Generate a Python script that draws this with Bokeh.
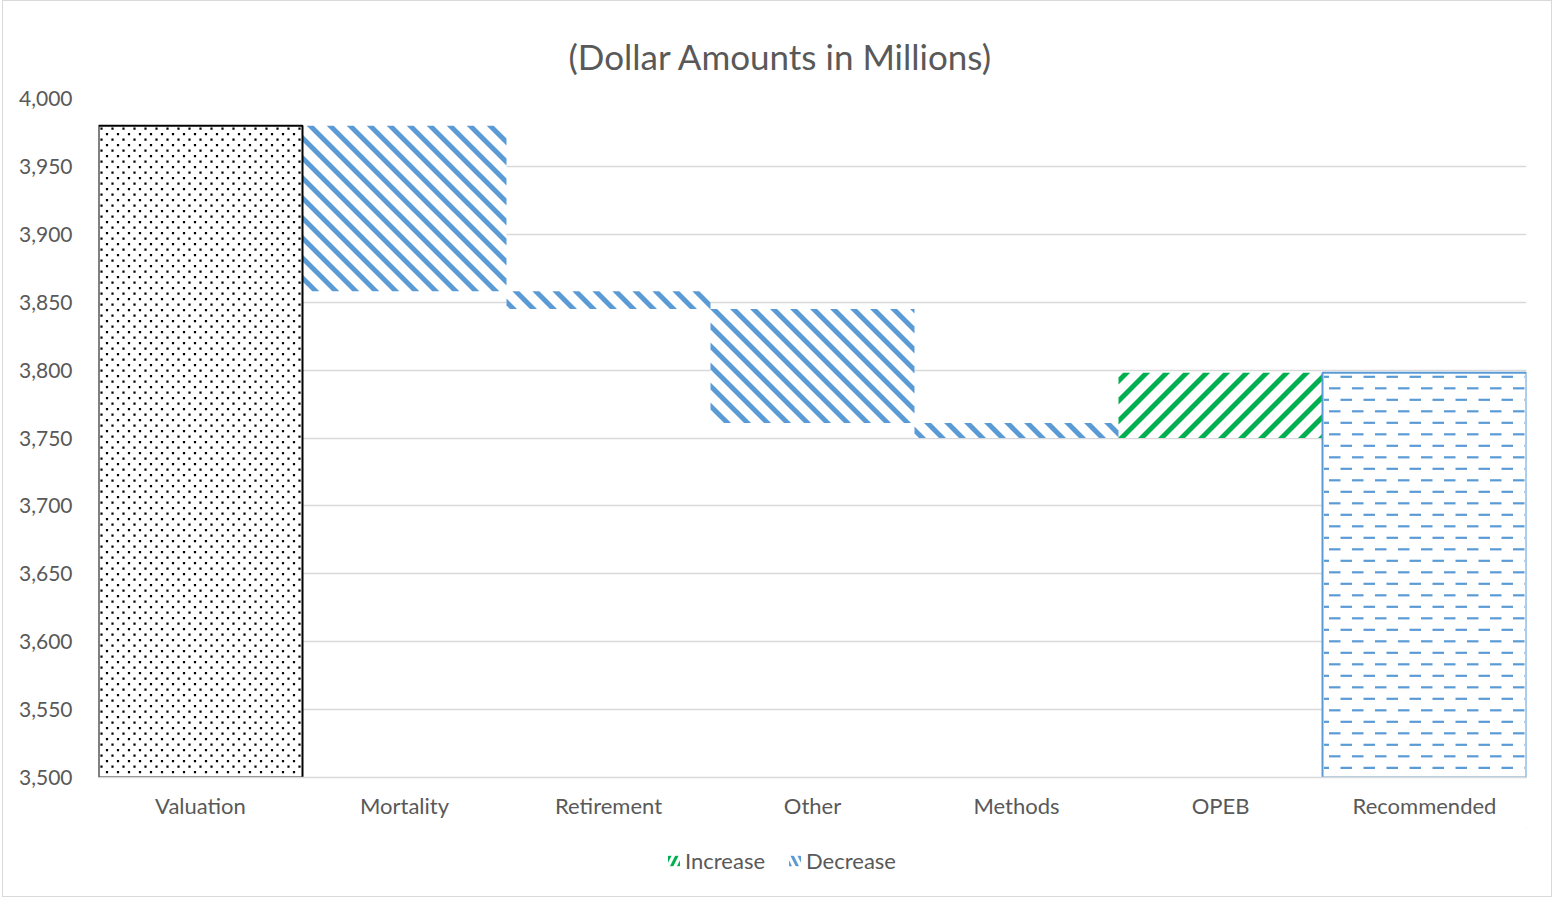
import math
from bokeh.plotting import figure
from bokeh.layouts import column
from bokeh.models import (ColumnDataSource, FixedTicker, NumeralTickFormatter, Legend, LegendItem,
                          Range1d, CustomJSTickFormatter)
from bokeh.embed import file_html
from bokeh.resources import INLINE

categories = ["Valuation", "Mortality", "Retirement", "Other", "Methods", "OPEB", "Recommended"]
start_value = 3980
changes = [-122, -13, -84, -11, 48]   # Mortality, Retirement, Other, Methods, OPEB
end_value = 3798
y_ticks = [3500, 3550, 3600, 3650, 3700, 3750, 3800, 3850, 3900, 3950, 4000]

FONT = "Lato"
GREY = "#595959"
BLUE = "#5B9BD5"
GREEN = "#00B050"

Y_MIN, Y_MAX = 3500, 4000
FRAME_W, FRAME_H = 1428, 679
N = len(categories)
PX_X = FRAME_W / N                    # pixels per category slot
PX_Y = FRAME_H / (Y_MAX - Y_MIN)      # pixels per million

# ---------- waterfall geometry from the values ----------
dec = dict(x=[], bottom=[], top=[], i=[])
inc = dict(x=[], bottom=[], top=[], i=[])
level = start_value
for idx, ch in enumerate(changes, start=1):
    new = level + ch
    target = dec if ch < 0 else inc
    target["x"].append(idx + 0.5)
    target["bottom"].append(min(level, new))
    target["top"].append(max(level, new))
    target["i"].append(idx)
    level = new


# ---------- fill-pattern helpers (pattern decoration computed from bar extents) ----------
def to_px(i, y0, y1):
    return i * PX_X, (i + 1) * PX_X, (y0 - Y_MIN) * PX_Y, (y1 - Y_MIN) * PX_Y


def clip(poly, a, b, c):
    out = []
    n = len(poly)
    for k in range(n):
        P, Q = poly[k], poly[(k + 1) % n]
        fp = a * P[0] + b * P[1] - c
        fq = a * Q[0] + b * Q[1] - c
        if fp >= 0:
            out.append(P)
        if (fp >= 0) != (fq >= 0):
            t = fp / (fp - fq)
            out.append((P[0] + t * (Q[0] - P[0]), P[1] + t * (Q[1] - P[1])))
    return out


def stripes(i, y0, y1, direction, period=20.0, width=7.0):
    X0, X1, Y0, Y1 = to_px(i, y0, y1)
    rect = [(X0, Y0), (X1, Y0), (X1, Y1), (X0, Y1)]
    if direction == "down":
        a, b, cmin, cmax = 1, 1, X0 + Y0, X1 + Y1
    else:
        a, b, cmin, cmax = 1, -1, X0 - Y1, X1 - Y0
    xs, ys = [], []
    k = math.floor(cmin / period) - 1
    while k * period <= cmax:
        c = k * period
        poly = clip(clip(rect, a, b, c), -a, -b, -(c + width))
        if len(poly) >= 3:
            xs.append([px / PX_X for px, _ in poly])
            ys.append([Y_MIN + py / PX_Y for _, py in poly])
        k += 1
    return xs, ys


def dots(i, y0, y1, hstep=11.0, vstep=5.5):
    X0, X1, Y0, Y1 = to_px(i, y0, y1)
    xs, ys = [], []
    r, Y = 0, Y1 - 3
    while Y > Y0 + 1.5:
        X = X0 + 3 + (r % 2) * hstep / 2
        while X < X1 - 1.5:
            xs.append(X / PX_X)
            ys.append(Y_MIN + Y / PX_Y)
            X += hstep
        Y -= vstep
        r += 1
    return xs, ys


def dashes(i, y0, y1, period=23.0, length=11.5, vstep=11.5):
    X0, X1, Y0, Y1 = to_px(i, y0, y1)
    seg = dict(x0=[], x1=[], y=[])
    r, Y = 0, Y1 - 4
    while Y > Y0 + 1.5:
        X = X0 - 5 + (r % 2) * period / 2 - period
        while X < X1:
            a, b = max(X, X0 + 1.5), min(X + length, X1 - 1.5)
            if b > a:
                seg["x0"].append(a / PX_X)
                seg["x1"].append(b / PX_X)
                seg["y"].append(Y_MIN + Y / PX_Y)
            X += period
        Y -= vstep
        r += 1
    return seg


p = figure(x_range=Range1d(0, N), y_range=Range1d(Y_MIN, Y_MAX),
           frame_width=FRAME_W, frame_height=FRAME_H, output_backend="svg", toolbar_location=None,
           min_border_left=95, min_border_right=25, min_border_top=97, min_border_bottom=50)
p.outline_line_color = None
p.background_fill_color = "white"

p.title.text = "(Dollar Amounts in Millions)"
p.title.align = "left"
p.title.offset = 470
p.title.vertical_align = "top"
p.title.text_font = FONT
p.title.text_font_size = "35px"
p.title.text_font_style = "normal"
p.title.text_color = GREY
p.title.standoff = 40

start_src = ColumnDataSource(dict(x=[0.5], bottom=[Y_MIN], top=[start_value]))
end_src = ColumnDataSource(dict(x=[N - 0.5], bottom=[Y_MIN], top=[end_value]))

# white bases (hide grid behind bars)
for src in (start_src, end_src, ColumnDataSource(dec), ColumnDataSource(inc)):
    p.vbar(x="x", bottom="bottom", top="top", width=1.0, source=src,
           fill_color="white", line_color=None)

# Valuation: dotted fill
dx, dy = dots(0, Y_MIN, start_value)
p.scatter(dx, dy, marker="square", size=2.2, fill_color="black", line_color=None)

# Decreases / increase: diagonal stripes
for i, b, t in zip(dec["i"], dec["bottom"], dec["top"]):
    xs, ys = stripes(i, b, t, "down")
    p.patches(xs, ys, fill_color=BLUE, line_color=None)
for i, b, t in zip(inc["i"], inc["bottom"], inc["top"]):
    xs, ys = stripes(i, b, t, "up")
    p.patches(xs, ys, fill_color=GREEN, line_color=None)

# Recommended: dashed fill
seg = dashes(N - 1, Y_MIN, end_value)
p.segment(x0=seg["x0"], y0=seg["y"], x1=seg["x1"], y1=seg["y"], line_color=BLUE, line_width=2.2,
          line_cap="butt")

# outlines
p.vbar(x="x", bottom="bottom", top="top", width=1.0, source=start_src,
       fill_color=None, line_color="black", line_width=2)
p.vbar(x="x", bottom="bottom", top="top", width=1.0, source=end_src,
       fill_color=None, line_color=BLUE, line_width=2)

p.yaxis.ticker = FixedTicker(ticks=y_ticks)
p.yaxis.formatter = NumeralTickFormatter(format="0,0")
p.yaxis.axis_line_color = None
p.yaxis.major_tick_line_color = None
p.yaxis.minor_tick_line_color = None
p.yaxis.major_label_text_font = FONT
p.yaxis.major_label_text_font_size = "21px"
p.yaxis.major_label_text_color = GREY
p.yaxis.major_label_standoff = 20

p.xaxis.ticker = FixedTicker(ticks=[k + 0.5 for k in range(N)])
p.xaxis.formatter = CustomJSTickFormatter(args=dict(names=categories),
                                          code="return names[Math.floor(tick)];")
p.xaxis.axis_line_color = "#D9D9D9"
p.xaxis.axis_line_width = 1.5
p.xaxis.major_tick_line_color = None
p.xaxis.minor_tick_line_color = None
p.xaxis.major_label_text_font = FONT
p.xaxis.major_label_text_font_size = "22px"
p.xaxis.major_label_text_color = GREY
p.xaxis.major_label_standoff = 8

p.xgrid.grid_line_color = None
p.ygrid.ticker = FixedTicker(ticks=y_ticks)
p.ygrid.grid_line_color = "#D9D9D9"
p.ygrid.grid_line_width = 1.5

# ---------- legend strip below the chart ----------
lg = figure(width=1548, height=69, x_range=Range1d(0, 1), y_range=Range1d(0, 1),
            x_axis_type=None, y_axis_type=None, output_backend="svg", toolbar_location=None,
            min_border=0)
lg.outline_line_color = None
lg.grid.grid_line_color = None
# legend-key renderers: one bar each, placed outside the strip's visible range
r_inc = lg.vbar(x=[5], bottom=[5], top=[6], width=1.0, fill_color="white", line_color=None,
                hatch_pattern="right_diagonal_line", hatch_color=GREEN, hatch_scale=14, hatch_weight=3)
r_dec = lg.vbar(x=[5], bottom=[5], top=[6], width=1.0, fill_color="white", line_color=None,
                hatch_pattern="left_diagonal_line", hatch_color=BLUE, hatch_scale=14, hatch_weight=3)
legend = Legend(items=[LegendItem(label="Increase", renderers=[r_inc]),
                       LegendItem(label="Decrease", renderers=[r_dec])],
                orientation="horizontal", location=(568, 22),
                label_text_font=FONT, label_text_font_size="22px", label_text_color=GREY,
                glyph_width=15, glyph_height=13, spacing=22, label_standoff=4,
                border_line_color=None, background_fill_alpha=0, margin=0, padding=2)
lg.add_layout(legend, "center")

layout = column(p, lg)
layout.styles = {"border": "1px solid #D9D9D9"}
layout.margin = (0, 0, 0, 2)

open("out.html", "w").write(file_html(layout, INLINE))
